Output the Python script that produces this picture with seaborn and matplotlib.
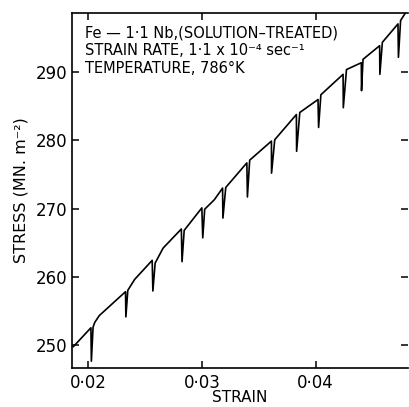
import matplotlib
matplotlib.use("Agg")
import matplotlib.pyplot as plt
import seaborn as sns
import pandas as pd
from matplotlib.ticker import FixedLocator, FixedFormatter

# Traced stress-strain curve (serrated flow)
strain = [0.01870, 0.02026, 0.02030, 0.02045, 0.02060, 0.02100,
          0.02330, 0.02333, 0.02350, 0.02410,
          0.02564, 0.02570, 0.02590, 0.02660,
          0.02820, 0.02826, 0.02845,
          0.03000, 0.03008, 0.03025, 0.03110,
          0.03182, 0.03185, 0.03210,
          0.03395, 0.03400, 0.03420,
          0.03611, 0.03612, 0.03640,
          0.03830, 0.03832, 0.03860,
          0.04020, 0.04025, 0.04045,
          0.04240, 0.04242, 0.04270,
          0.04400, 0.04402, 0.04415,
          0.04561, 0.04563, 0.04585,
          0.04722, 0.04726, 0.04745, 0.04810]
stress = [249.7, 252.5, 247.6, 252.6, 253.3, 254.3,
          257.8, 254.1, 258.0, 259.6,
          262.4, 257.9, 262.0, 264.2,
          267.0, 262.2, 266.8,
          270.1, 265.7, 269.9, 271.3,
          273.0, 268.6, 273.1,
          276.7, 271.7, 277.1,
          279.9, 275.2, 280.1,
          283.8, 278.4, 284.1,
          286.0, 281.9, 286.7,
          289.7, 284.8, 290.4,
          291.4, 287.3, 291.9,
          293.9, 289.7, 294.4,
          297.1, 292.2, 297.6, 299.3]

x_ticks = [0.02, 0.03, 0.04]
x_tick_labels = ["0·02", "0·03", "0·04"]
y_ticks = [250, 260, 270, 280, 290]
y_tick_labels = ["250", "260", "270", "280", "290"]

annotation_lines = ["Fe — 1·1 Nb,(SOLUTION–TREATED)",
                    "STRAIN RATE, 1·1 x 10⁻⁴ sec⁻¹",
                    "TEMPERATURE, 786°K"]

df = pd.DataFrame({"strain": strain, "stress": stress})

sns.set_style("ticks")
plt.rcParams["font.family"] = ["DejaVu Sans"]
plt.rcParams["text.color"] = "black"
plt.rcParams["axes.labelcolor"] = "black"

fig = plt.figure(figsize=(4.09, 4.07), dpi=100)
ax = fig.add_axes([72/409, 39/407, 336/409, 355/407])

sns.lineplot(data=df, x="strain", y="stress", sort=False, estimator=None,
             color="black", linewidth=1.2, ax=ax)

ax.set_xlim(0.0186, 0.0481)
ax.set_ylim(246.6, 298.7)

ax.xaxis.set_major_locator(FixedLocator(x_ticks))
ax.xaxis.set_major_formatter(FixedFormatter(x_tick_labels))
ax.yaxis.set_major_locator(FixedLocator(y_ticks))
ax.yaxis.set_major_formatter(FixedFormatter(y_tick_labels))

ax.tick_params(direction="in", length=5, width=1.1, labelsize=12,
               top=True, right=True, colors="black")
ax.tick_params(axis="x", pad=4)
for side in ["left", "bottom", "top"]:
    ax.spines[side].set_linewidth(1.2)
    ax.spines[side].set_color("black")
ax.spines["right"].set_visible(False)

ax.set_xlabel("STRAIN", fontsize=11, labelpad=-1)
ax.set_ylabel("STRESS (MN. m⁻²)", fontsize=11.5, labelpad=5)

ax.text(0.038, 0.965, "\n".join(annotation_lines), transform=ax.transAxes,
        ha="left", va="top", fontsize=10.5, linespacing=1.22, color="black")

fig.savefig("out.png", dpi=100)
